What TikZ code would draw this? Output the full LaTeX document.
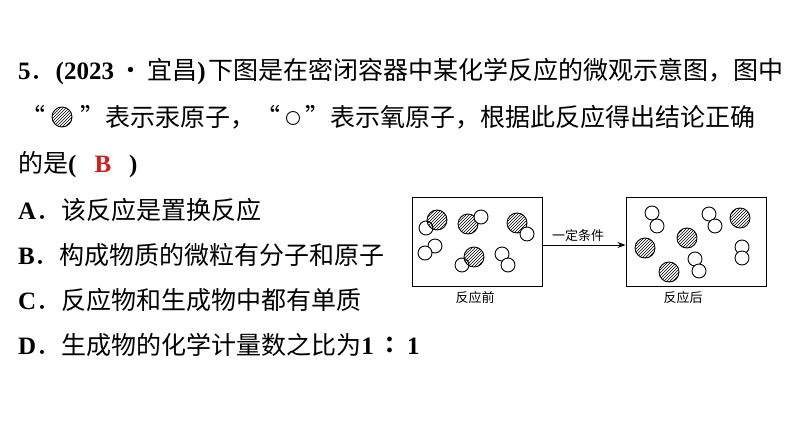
\documentclass[tikz,border=0pt]{standalone}
\usepackage{fontspec}
\setmainfont{Liberation Serif}
\newfontfamily\cjk{Noto Sans CJK SC}
\usetikzlibrary{patterns,arrows.meta}
\begin{document}
\begin{tikzpicture}[x=1pt,y=-1pt,
  txt/.style={anchor=base west,inner sep=0,font=\fontsize{25}{25}\selectfont},
  small/.style={inner sep=0,font=\cjk\fontsize{13}{13}\selectfont},
  ox/.style={draw,fill=white,line width=0.9pt},
  hgs/.style={draw,line width=0.9pt,pattern=north east lines},
  box/.style={draw,line width=1pt}]
\useasboundingbox (0,0) rectangle (794,447);
% text
\node[txt] (l1a) at (18,79) {\textbf{5}{\cjk．}\textbf{(2023}\,{\cjk ·\,宜昌}\textbf{)}};
\node[txt] (l1b) at (208,79) {\cjk 下图是在密闭容器中某化学反应的微观示意图，图中};
\node[txt] (l2a) at (20,126) {\cjk “};
\draw[hgs] (62,117) circle (10) coordinate (lg);
\node[txt] (l2b) at (80,126) {\cjk ”表示汞原子，“};
\draw[ox] (293,118) circle (6.5) coordinate (lo);
\node[txt] (l2c) at (305,126) {\cjk ”表示氧原子，根据此反应得出结论正确};
\node[txt] (l3) at (18,172) {{\cjk 的是}\textbf{(}\hspace{18pt}\textcolor[rgb]{0.85,0.1,0.1}{\textbf{B}}\hspace{18pt}\textbf{)}};
\node[txt] (oa) at (18,219) {\textbf{A}{\cjk．该反应是置换反应}};
\node[txt] (ob) at (18,264) {\textbf{B}{\cjk．构成物质的微粒有分子和原子}};
\node[txt] (oc) at (18,309) {\textbf{C}{\cjk．反应物和生成物中都有单质}};
\node[txt] (od) at (18,354) {\textbf{D}{\cjk．生成物的化学计量数之比为}\textbf{1\,{\cjk ∶}\,1}};
% boxes
\node[box,minimum width=130,minimum height=89,inner sep=0] (before) at (477,241.5) {};
\node[box,minimum width=140,minimum height=89,inner sep=0] (after) at (696,241.5) {};
\draw[-{Stealth[length=8pt,width=6pt]},line width=0.9pt] (before.east|-0,245) -- (after.west|-0,245) coordinate (ae);
\node[small] (cond) at (578,236) {一定条件};
\node[small] (lb) at (475,298) {反应前};
\node[small] (la) at (683,298) {反应后};
% before
\draw[ox] (426,228) circle (7); \draw[hgs] (437,220) circle (10);
\draw[hgs] (468,224) circle (10); \draw[ox] (481,217) circle (7);
\draw[hgs] (517,223) circle (10); \draw[ox] (527,234) circle (7);
\draw[ox] (435,246) circle (7); \draw[ox] (425,253) circle (7);
\draw[ox] (462,265) circle (7); \draw[hgs] (474,257) circle (10);
\draw[ox] (502,254) circle (7); \draw[ox] (508,265) circle (7);
% after
\draw[ox] (652,213) circle (7); \draw[ox] (657,226) circle (7);
\draw[ox] (709,214) circle (7); \draw[ox] (715,226) circle (7);
\draw[hgs] (740,218) circle (10);
\draw[hgs] (687,238) circle (10);
\draw[hgs] (645,248) circle (10);
\draw[ox] (695,259) circle (7); \draw[ox] (699,271) circle (7);
\draw[ox] (742,247) circle (7); \draw[ox] (742,258) circle (7);
\draw[hgs] (669,272) circle (10);
\end{tikzpicture}
\end{document}
